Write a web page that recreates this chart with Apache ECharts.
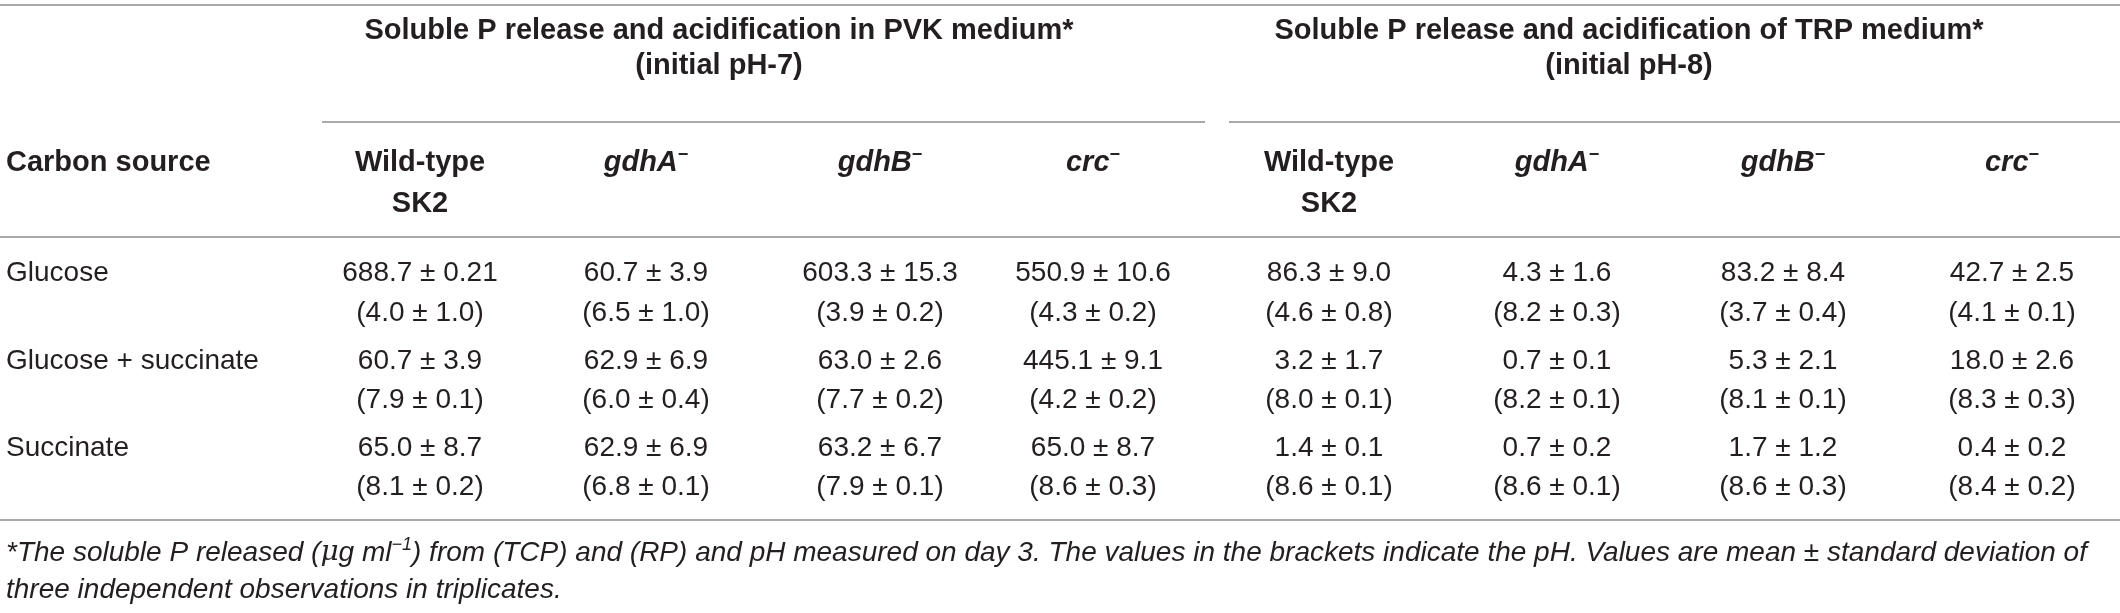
<!DOCTYPE html>
<html>
<head>
<meta charset="utf-8">
<title>Soluble P release table</title>
<script src="https://cdn.jsdelivr.net/npm/echarts@6/dist/echarts.min.js"></script>
<style>
    html, body { margin: 0; padding: 0; background: #fff; }
    #main { width: 2120px; height: 613px; }
</style>
</head>
<body>
<div id="main"></div>
<script>
// table content
var groupTitles = ['Soluble P release and acidification in PVK medium*', 'Soluble P release and acidification of TRP medium*']
var groupSubtitles = ['(initial pH-7)', '(initial pH-8)']
var strains = ['Wild-type', 'gdhA', 'gdhB', 'crc']
var carbonSources = ['Glucose', 'Glucose + succinate', 'Succinate']

// PVK medium: P released (mean, sd) and pH (mean, sd), rows = carbon source, cols = strain
var pvkMean = [['688.7', '60.7', '603.3', '550.9'], ['60.7', '62.9', '63.0', '445.1'], ['65.0', '62.9', '63.2', '65.0']]
var pvkSd = [['0.21', '3.9', '15.3', '10.6'], ['3.9', '6.9', '2.6', '9.1'], ['8.7', '6.9', '6.7', '8.7']]
var pvkPh = [['4.0', '6.5', '3.9', '4.3'], ['7.9', '6.0', '7.7', '4.2'], ['8.1', '6.8', '7.9', '8.6']]
var pvkPhSd = [['1.0', '1.0', '0.2', '0.2'], ['0.1', '0.4', '0.2', '0.2'], ['0.2', '0.1', '0.1', '0.3']]

// TRP medium
var trpMean = [['86.3', '4.3', '83.2', '42.7'], ['3.2', '0.7', '5.3', '18.0'], ['1.4', '0.7', '1.7', '0.4']]
var trpSd = [['9.0', '1.6', '8.4', '2.5'], ['1.7', '0.1', '2.1', '2.6'], ['0.1', '0.2', '1.2', '0.2']]
var trpPh = [['4.6', '8.2', '3.7', '4.1'], ['8.0', '8.2', '8.1', '8.3'], ['8.6', '8.6', '8.6', '8.4']]
var trpPhSd = [['0.8', '0.3', '0.4', '0.1'], ['0.1', '0.1', '0.1', '0.3'], ['0.1', '0.1', '0.3', '0.2']]

var footnote = ['{i|*The soluble P released (}{mu|μ}{i|g ml}{sup|−1}{i|) from (TCP) and (RP) and pH measured on day 3. The values in the brackets indicate the pH. Values are mean ± standard deviation of}',
    '{i|three independent observations in triplicates.}']

// layout (pixel space of the hidden axes)
var W = 2120, H = 613
var colX = [420, 646, 880, 1093, 1329, 1557, 1783, 2012]
var firstColX = 6
var groupX = [719, 1629]
var groupLineX = [[322, 1205], [1229, 2120]]
var titleY = [31, 66]
var headY = [163, 204]
var rowY = [[273, 313], [361, 400], [448, 487]]
var ruleY = {top: 5, group: 122, head: 237, bottom: 520}
var footY = [553, 590]

var textColor = '#231f20'
var bodyColor = '#2a2a2a'
var ruleColor = '#8c8c8c'
var fontFamily = '"Liberation Sans", Arial, sans-serif'

var rich = {
    b: {fontWeight: 'bold', fontSize: 29, fontFamily: fontFamily, lineHeight: 34, color: textColor},
    bi: {fontWeight: 'bold', fontStyle: 'italic', fontSize: 29, fontFamily: fontFamily, lineHeight: 34, color: textColor},
    bsup: {fontWeight: 'bold', fontSize: 18, fontFamily: fontFamily, verticalAlign: 'top', lineHeight: 34, color: textColor},
    n: {fontSize: 28, fontFamily: fontFamily, lineHeight: 34, color: bodyColor},
    i: {fontStyle: 'italic', fontSize: 28, fontFamily: fontFamily, lineHeight: 34, color: bodyColor},
    mu: {fontStyle: 'italic', fontSize: 28, fontFamily: '"DejaVu Serif", serif', lineHeight: 34, color: bodyColor},
    sup: {fontStyle: 'italic', fontSize: 18, fontFamily: fontFamily, verticalAlign: 'top', lineHeight: 34, color: bodyColor}
}

// build text cells: [x, y, richText, align]
var cells = []
groupTitles.forEach(function (t, g) {
    cells.push([groupX[g], titleY[0], '{b|' + t + '}', 'center'])
    cells.push([groupX[g], titleY[1], '{b|' + groupSubtitles[g] + '}', 'center'])
})
cells.push([firstColX, headY[0], '{b|Carbon source}', 'left'])
for (var g = 0; g < 2; g++) {
    strains.forEach(function (s, k) {
        var x = colX[g * 4 + k]
        if (k === 0) {
            cells.push([x, headY[0], '{b|' + s + '}', 'center'])
            cells.push([x, headY[1], '{b|SK2}', 'center'])
        } else {
            cells.push([x, headY[0], '{bi|' + s + '}{bsup|−}', 'center'])
        }
    })
}
carbonSources.forEach(function (c, r) {
    cells.push([firstColX, rowY[r][0], '{n|' + c + '}', 'left'])
    for (var k = 0; k < 4; k++) {
        cells.push([colX[k], rowY[r][0], '{n|' + pvkMean[r][k] + ' ± ' + pvkSd[r][k] + '}', 'center'])
        cells.push([colX[k], rowY[r][1], '{n|(' + pvkPh[r][k] + ' ± ' + pvkPhSd[r][k] + ')}', 'center'])
        cells.push([colX[4 + k], rowY[r][0], '{n|' + trpMean[r][k] + ' ± ' + trpSd[r][k] + '}', 'center'])
        cells.push([colX[4 + k], rowY[r][1], '{n|(' + trpPh[r][k] + ' ± ' + trpPhSd[r][k] + ')}', 'center'])
    }
})
footnote.forEach(function (f, i) {
    cells.push([firstColX, footY[i], f, 'left'])
})

// horizontal rules: [x1, x2, y]
var rules = [
    [0, W, ruleY.top],
    [groupLineX[0][0], groupLineX[0][1], ruleY.group],
    [groupLineX[1][0], groupLineX[1][1], ruleY.group],
    [0, W, ruleY.head],
    [0, W, ruleY.bottom]
]

var chart = echarts.init(document.getElementById('main'), null, {renderer: 'canvas'})
var option = {
    backgroundColor: '#ffffff',
    animation: false,
    grid: {left: 0, right: 0, top: 0, bottom: 0},
    xAxis: {type: 'value', min: 0, max: W, show: false},
    yAxis: {type: 'value', min: 0, max: H, inverse: true, show: false},
    series: [
        {
            name: 'rules',
            type: 'custom',
            data: rules,
            renderItem: function (params, api) {
                var p1 = api.coord([api.value(0), api.value(2)])
                var p2 = api.coord([api.value(1), api.value(2)])
                return {
                    type: 'line',
                    shape: {x1: p1[0], y1: p1[1], x2: p2[0], y2: p2[1]},
                    style: {stroke: ruleColor, lineWidth: 1.6}
                }
            }
        },
        {
            name: 'cells',
            type: 'custom',
            data: cells,
            renderItem: function (params, api) {
                var item = cells[params.dataIndex]
                var p = api.coord([item[0], item[1]])
                return {
                    type: 'text',
                    x: p[0],
                    y: p[1],
                    style: {
                        text: item[2],
                        rich: rich,
                        align: item[3],
                        verticalAlign: 'middle',
                        fill: textColor
                    }
                }
            }
        }
    ]
}
chart.setOption(option)
</script>
</body>
</html>
